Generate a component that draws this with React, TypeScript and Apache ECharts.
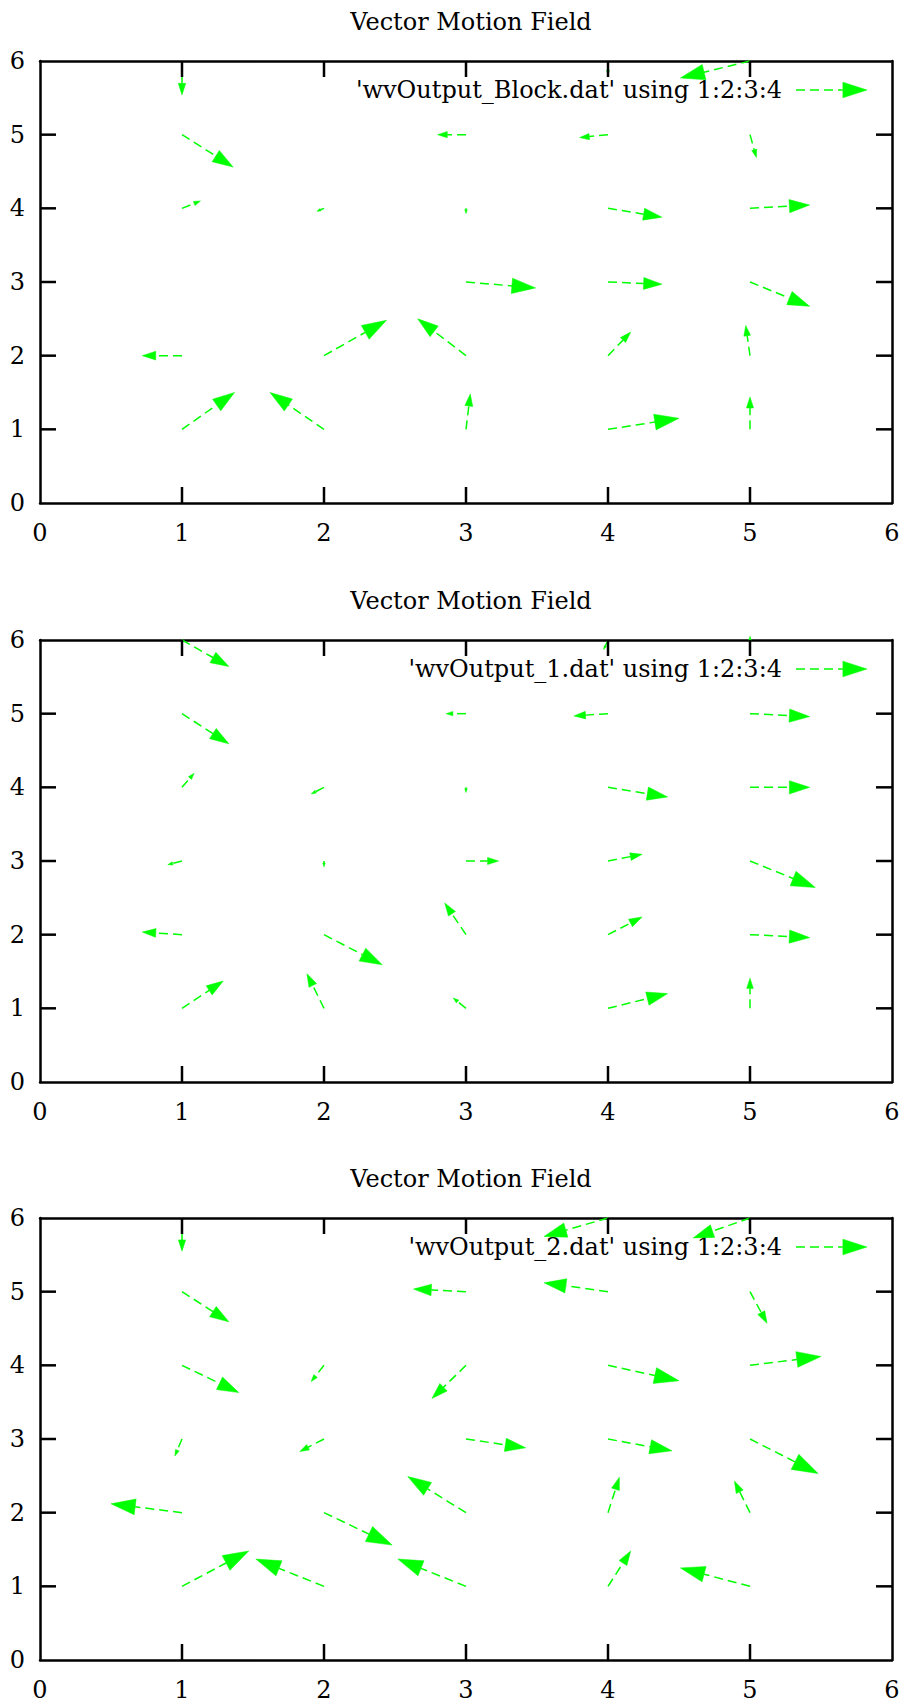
import React, { useEffect, useRef } from "react";
import * as echarts from "echarts";

const TITLE = "Vector Motion Field";
const LEGEND_LABELS = [
  "'wvOutput_Block.dat' using 1:2:3:4",
  "'wvOutput_1.dat' using 1:2:3:4",
  "'wvOutput_2.dat' using 1:2:3:4",
];
const AXIS_MIN = 0;
const AXIS_MAX = 6;
const AXIS_STEP = 1;
const TICK_VALUES = [1, 2, 3, 4, 5];

// Panel 1: wvOutput_Block.dat  (x, y, dx, dy)
const blockX = [1, 4, 5, 1, 3, 4, 5, 1, 2, 3, 4, 5, 3, 4, 5, 1, 2, 3, 4, 5, 1, 2, 3, 4, 5];
const blockY = [6, 6, 6, 5, 5, 5, 5, 4, 4, 4, 4, 4, 3, 3, 3, 2, 2, 2, 2, 2, 1, 1, 1, 1, 1];
const blockDX = [0, 0, -0.49, 0.36, -0.2, -0.2, 0.045, 0.13, -0.05, 0, 0.38, 0.42, 0.49, 0.38, 0.42, -0.28, 0.44, -0.34, 0.16, -0.03, 0.37, -0.38, 0.03, 0.5, 0];
const blockDY = [-0.46, -0.19, -0.23, -0.44, 0, -0.04, -0.31, 0.1, -0.04, -0.07, -0.12, 0.045, -0.08, -0.03, -0.33, 0, 0.48, 0.5, 0.32, 0.41, 0.5, 0.5, 0.48, 0.15, 0.44];

// Panel 2: wvOutput_1.dat
const out1X = [1, 4, 5, 1, 3, 4, 5, 1, 2, 3, 4, 5, 1, 2, 3, 4, 5, 1, 2, 3, 4, 5, 1, 2, 3, 4, 5];
const out1Y = [6, 6, 6, 5, 5, 5, 5, 4, 4, 4, 4, 4, 3, 3, 3, 3, 3, 2, 2, 2, 2, 2, 1, 1, 1, 1, 1];
const out1DX = [0.33, -0.03, 0, 0.33, -0.14, -0.24, 0.42, 0.085, -0.09, 0, 0.42, 0.42, -0.1, 0, 0.23, 0.24, 0.46, -0.28, 0.41, -0.15, 0.24, 0.42, 0.29, -0.12, -0.09, 0.42, 0];
const out1DY = [-0.36, -0.13, 0.05, -0.41, 0, -0.03, -0.04, 0.19, -0.09, -0.07, -0.13, 0, -0.05, -0.08, 0, 0.09, -0.36, 0.035, -0.41, 0.43, 0.24, -0.04, 0.37, 0.47, 0.14, 0.2, 0.41];

// Panel 3: wvOutput_2.dat
const out2X = [1, 4, 5, 1, 3, 4, 5, 1, 2, 3, 4, 5, 1, 2, 3, 4, 5, 1, 2, 3, 4, 5, 1, 2, 3, 4, 5];
const out2Y = [6, 6, 6, 5, 5, 5, 5, 4, 4, 4, 4, 4, 3, 3, 3, 3, 3, 2, 2, 2, 2, 2, 1, 1, 1, 1, 1];
const out2DX = [0, -0.45, -0.4, 0.33, -0.37, -0.45, 0.12, 0.4, -0.09, -0.24, 0.5, 0.5, -0.05, -0.17, 0.42, 0.45, 0.48, -0.5, 0.48, -0.41, 0.08, -0.11, 0.47, -0.48, -0.48, 0.16, -0.49];
const out2DY = [-0.45, -0.25, -0.27, -0.41, 0.035, 0.12, -0.43, -0.37, -0.22, -0.45, -0.21, 0.12, -0.23, -0.17, -0.12, -0.16, -0.47, 0.12, -0.44, 0.49, 0.48, 0.43, 0.48, 0.37, 0.37, 0.48, 0.25];

const PANELS = [
  { x: blockX, y: blockY, dx: blockDX, dy: blockDY },
  { x: out1X, y: out1Y, dx: out1DX, dy: out1DY },
  { x: out2X, y: out2Y, dx: out2DX, dy: out2DY },
];

const GREEN = "#00ff00";
const FONT = "DejaVu Serif";
const FONT_SIZE = 24;
const PLOT_LEFT = 40;
const PLOT_WIDTH = 852;
const PLOT_HEIGHT = 442;
const PLOT_TOPS = [61, 640, 1218];
const TIC = 13;
const TICK_LEN = 16;
const HEAD_ANGLE = (18 * Math.PI) / 180;
const DASH = [9, 5];

function arrowParts(sx: number, sy: number, ex: number, ey: number) {
  const vx = ex - sx;
  const vy = ey - sy;
  const len = Math.hypot(vx, vy);
  if (len < 0.5) return null;
  const ux = vx / len;
  const uy = vy / len;
  const hl = Math.min(Math.max(len * 0.34, TIC * 0.3), TIC * 2);
  const hw = hl * Math.tan(HEAD_ANGLE);
  const bx = ex - ux * hl;
  const by = ey - uy * hl;
  return [
    {
      type: "line",
      shape: { x1: sx, y1: sy, x2: bx, y2: by },
      style: { stroke: GREEN, lineWidth: 1.5, lineDash: DASH, fill: null },
    },
    {
      type: "polygon",
      shape: {
        points: [
          [ex, ey],
          [bx - uy * hw, by + ux * hw],
          [bx + uy * hw, by - ux * hw],
        ],
      },
      style: { fill: GREEN, stroke: GREEN, lineWidth: 0.5 },
    },
  ];
}

export default function App() {
  const ref = useRef<HTMLDivElement>(null);
  useEffect(() => {
    if (!ref.current) return;
    const chart = echarts.init(ref.current, undefined, { renderer: "svg" });

    const axisLine = { show: true, onZero: false, lineStyle: { color: "#000", width: 2.5 } };
    const axisTick = { show: false };
    const labelStyle = { color: "#000", fontFamily: FONT, fontSize: FONT_SIZE, lineHeight: 20 };

    const grid: any[] = [];
    const xAxis: any[] = [];
    const yAxis: any[] = [];
    const series: any[] = [];
    const title: any[] = [];
    const graphic: any[] = [];

    PLOT_TOPS.forEach((top, i) => {
      grid.push({ left: PLOT_LEFT, top, width: PLOT_WIDTH, height: PLOT_HEIGHT, containLabel: false });
      const base = { type: "value", min: AXIS_MIN, max: AXIS_MAX, interval: AXIS_STEP, gridIndex: i, splitLine: { show: false }, axisLine, axisTick };
      xAxis.push({ ...base, position: "bottom", axisLabel: { ...labelStyle, margin: 20 } });
      xAxis.push({ ...base, position: "top", axisLabel: { show: false } });
      yAxis.push({ ...base, position: "left", axisLabel: { ...labelStyle, margin: 15 } });
      yAxis.push({ ...base, position: "right", axisLabel: { show: false } });

      const p = PANELS[i];
      const data = p.x.map((x, k) => [x, p.y[k], p.dx[k], p.dy[k]]);
      series.push({
        type: "custom",
        name: LEGEND_LABELS[i],
        xAxisIndex: i * 2,
        yAxisIndex: i * 2,
        clip: false,
        encode: { x: 0, y: 1 },
        data,
        z: 2,
        renderItem: (params: any, api: any) => {
          const x0 = api.value(0);
          const y0 = api.value(1);
          const s = api.coord([x0, y0]);
          const e = api.coord([x0 + api.value(2), y0 + api.value(3)]);
          const parts = arrowParts(s[0], s[1], e[0], e[1]);
          if (!parts) return null;
          return { type: "group", children: parts };
        },
      });

      // inward major tics on all four sides (mirrored), placed through the axes' scales
      series.push({
        type: "custom",
        xAxisIndex: i * 2,
        yAxisIndex: i * 2,
        clip: false,
        silent: true,
        z: 3,
        encode: { x: 0, y: 1 },
        data: TICK_VALUES.map((v) => [v, v]),
        renderItem: (params: any, api: any) => {
          const v = api.value(0);
          const b = api.coord([v, AXIS_MIN]);
          const t = api.coord([v, AXIS_MAX]);
          const l = api.coord([AXIS_MIN, v]);
          const r = api.coord([AXIS_MAX, v]);
          const st = { stroke: "#000", lineWidth: 2.5, fill: null };
          return {
            type: "group",
            children: [
              { type: "line", shape: { x1: b[0], y1: b[1], x2: b[0], y2: b[1] - TICK_LEN }, style: st },
              { type: "line", shape: { x1: t[0], y1: t[1], x2: t[0], y2: t[1] + TICK_LEN }, style: st },
              { type: "line", shape: { x1: l[0], y1: l[1], x2: l[0] + TICK_LEN, y2: l[1] }, style: st },
              { type: "line", shape: { x1: r[0], y1: r[1], x2: r[0] - TICK_LEN, y2: r[1] }, style: st },
            ],
          };
        },
      });

      title.push({
        text: TITLE,
        left: PLOT_LEFT + PLOT_WIDTH / 2,
        top: top - 56,
        textAlign: "center",
        textStyle: { color: "#000", fontFamily: FONT, fontSize: FONT_SIZE, fontWeight: "normal" },
      });

      const ly = top + 29;
      graphic.push({
        type: "text",
        x: 782,
        y: ly,
        style: { text: LEGEND_LABELS[i], fill: "#000", font: `${FONT_SIZE}px "${FONT}"`, textAlign: "right", textVerticalAlign: "middle" },
      });
      const parts = arrowParts(796, ly, 867, ly) || [];
      graphic.push({ type: "group", children: parts });
    });

    chart.setOption({
      animation: false,
      backgroundColor: "#fff",
      title,
      grid,
      xAxis,
      yAxis,
      series,
      graphic,
    });
    return () => chart.dispose();
  }, []);
  return <div ref={ref} style={{ position: "absolute", left: 0, top: 0, width: 908, height: 1704, background: "#fff" }} />;
}
